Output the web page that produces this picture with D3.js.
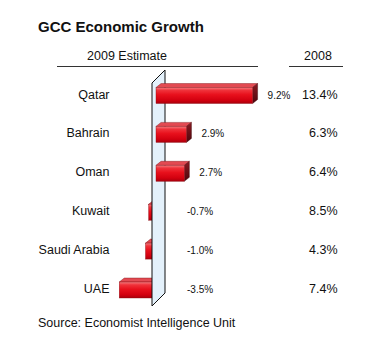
<!DOCTYPE html>
<html>
<head>
<meta charset="utf-8">
<script src="https://cdn.jsdelivr.net/npm/d3@7"></script>
<style>
  html, body { margin: 0; padding: 0; background: #fff; }
  svg { display: block; font-family: "Liberation Sans", Arial, Helvetica, sans-serif; }
</style>
</head>
<body>
<svg id="chart" width="378" height="348"></svg>
<script>
// GCC real GDP growth, %
const countries = ["Qatar", "Bahrain", "Oman", "Kuwait", "Saudi Arabia", "UAE"];
const estimate2009 = [9.2, 2.9, 2.7, -0.7, -1.0, -3.5];
const actual2008 = [13.4, 6.3, 6.4, 8.5, 4.3, 7.4];
const headers = ["2009 Estimate", "2008"];

const svg = d3.select("#chart");

// scales
const x = d3.scaleLinear().domain([0, 10]).range([156, 261]);
const y = d3.scalePoint().domain(countries).range([94, 288.5]);

const barH = 16;          // front face height
const depth = [5, -4];    // oblique offset for bar depth
const wallDepth = [13, -13];
const fmt = v => v.toFixed(1) + "%";

// gradients
const defs = svg.append("defs");
const front = defs.append("linearGradient").attr("id", "barFront")
  .attr("x1", 0).attr("y1", 0).attr("x2", 0).attr("y2", 1);
[["0%", "#f47c80"], ["18%", "#f0323a"], ["45%", "#e8101c"], ["80%", "#d2000f"], ["100%", "#a8000c"]]
  .forEach(([o, c]) => front.append("stop").attr("offset", o).attr("stop-color", c));
const side = defs.append("linearGradient").attr("id", "barSide")
  .attr("x1", 0).attr("y1", 0).attr("x2", 0).attr("y2", 1);
[["0%", "#8a1a22"], ["100%", "#4e060c"]]
  .forEach(([o, c]) => side.append("stop").attr("offset", o).attr("stop-color", c));

// title
svg.append("text").attr("x", 38).attr("y", 31.5)
  .attr("font-size", 15).attr("font-weight", "bold").attr("fill", "#111")
  .text("GCC Economic Growth");

// column headers with rules
const headerG = svg.append("g");
headerG.append("text").attr("x", 127).attr("y", 60).attr("text-anchor", "middle")
  .attr("font-size", 12.5).attr("fill", "#111").text(headers[0]);
headerG.append("text").attr("x", 318).attr("y", 60).attr("text-anchor", "middle")
  .attr("font-size", 12.5).attr("fill", "#111").text(headers[1]);
headerG.append("line").attr("x1", 57).attr("x2", 258).attr("y1", 66.5).attr("y2", 66.5)
  .attr("stroke", "#333").attr("stroke-width", 1);
headerG.append("line").attr("x1", 289).attr("x2", 343).attr("y1", 66.5).attr("y2", 66.5)
  .attr("stroke", "#333").attr("stroke-width", 1);

// category labels
svg.append("g").selectAll("text").data(countries).join("text")
  .attr("x", 109.5).attr("y", d => y(d) + 4.5)
  .attr("text-anchor", "end").attr("font-size", 12.5).attr("fill", "#111")
  .text(d => d);

const rows = countries.map((c, i) => ({ c, v: estimate2009[i], p: actual2008[i] }));

function drawBar(g, d) {
  const cy = y(d.c) + 1.5;
  const x0 = x(Math.min(0, d.v)), x1 = x(Math.max(0, d.v));
  const top = cy - barH / 2, bot = cy + barH / 2;
  const [dx, dy] = depth;
  g.append("polygon")
    .attr("points", [[x0, top], [x1, top], [x1 + dx, top + dy], [x0 + dx, top + dy]].join(" "))
    .attr("fill", "#e24a52").attr("stroke", "#7a0a10").attr("stroke-width", 0.4);
  g.append("polygon")
    .attr("points", [[x1, top], [x1 + dx, top + dy], [x1 + dx, bot + dy], [x1, bot]].join(" "))
    .attr("fill", "url(#barSide)").attr("stroke", "#3a0408").attr("stroke-width", 0.4);
  g.append("rect").attr("x", x0).attr("y", top).attr("width", x1 - x0).attr("height", barH)
    .attr("fill", "url(#barFront)").attr("stroke", "#8a0a12").attr("stroke-width", 0.4);
}

// negative bars sit behind the zero wall
const negG = svg.append("g");
rows.filter(d => d.v < 0).forEach(d => drawBar(negG, d));

// zero wall
const wx = x(0) - 4;
const wTop = y(countries[0]) - 11, wBot = y(countries[countries.length - 1]) + 17.5;
svg.append("polygon")
  .attr("points", [[wx, wTop], [wx + wallDepth[0], wTop + wallDepth[1]],
                   [wx + wallDepth[0], wBot + wallDepth[1]], [wx, wBot]].join(" "))
  .attr("fill", "#e4f1fb").attr("stroke", "#111").attr("stroke-width", 1);

// positive bars in front of the wall
const posG = svg.append("g");
rows.filter(d => d.v >= 0).forEach(d => drawBar(posG, d));

// 2009 value labels
svg.append("g").selectAll("text").data(rows).join("text")
  .attr("x", d => d.v >= 0 ? x(d.v) + depth[0] + 10 : x(0) + 31)
  .attr("y", d => y(d.c) + 4.5)
  .attr("font-size", 10).attr("fill", "#111")
  .text(d => fmt(d.v));

// 2008 column
svg.append("g").selectAll("text").data(rows).join("text")
  .attr("x", 337.5).attr("y", d => y(d.c) + 4.5)
  .attr("text-anchor", "end").attr("font-size", 12.5).attr("fill", "#111")
  .text(d => fmt(d.p));

// source note
svg.append("text").attr("x", 38).attr("y", 327)
  .attr("font-size", 12.5).attr("fill", "#111")
  .text("Source: Economist Intelligence Unit");
</script>
</body>
</html>
